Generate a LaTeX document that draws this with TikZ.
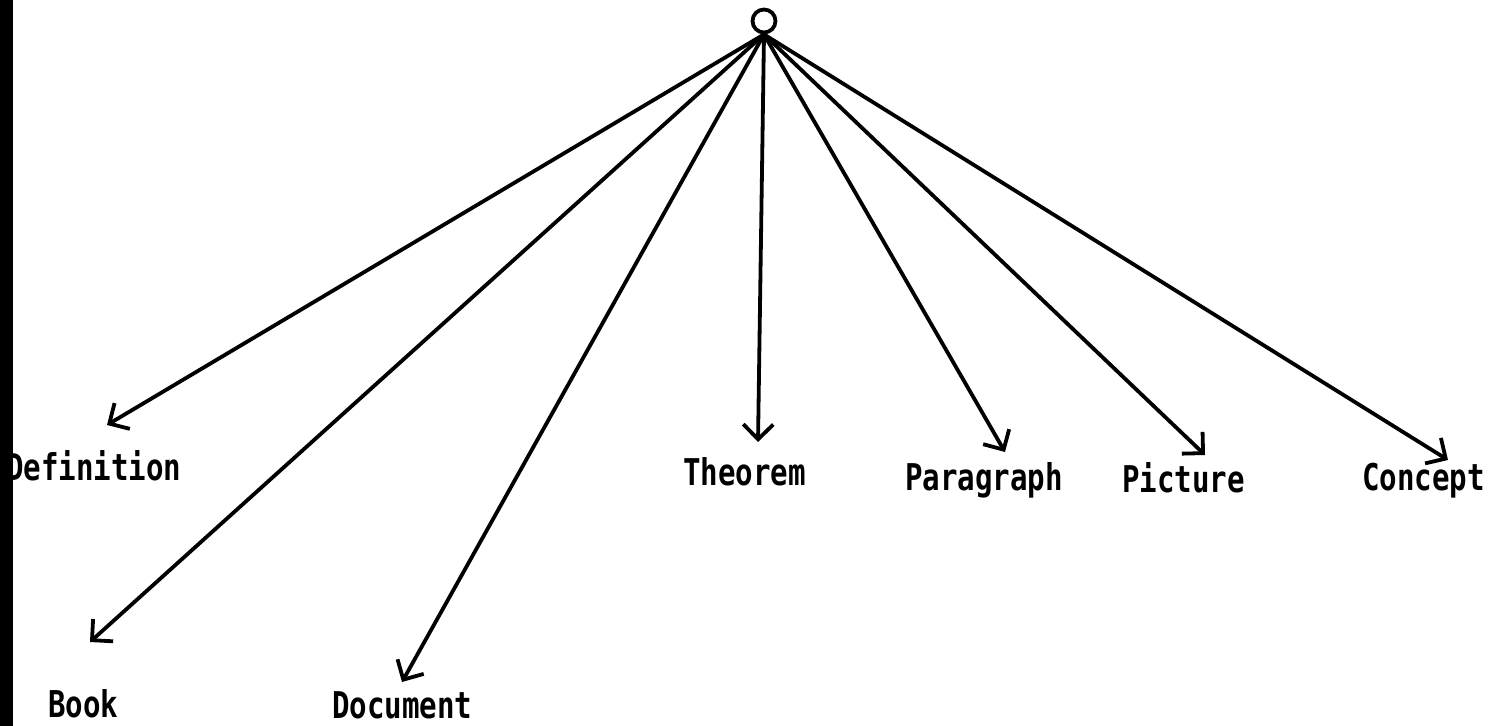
\documentclass[tikz,border=0pt]{standalone}
\usepackage{fontspec}
\newfontfamily\labelmono{DejaVu Sans Mono}
\usetikzlibrary{arrows.meta}
\begin{document}
\begin{tikzpicture}[x=1bp,y=-1bp,
  link/.style={line width=3.8bp, line cap=round,
    -{Straight Barb[length=15bp,width=30bp]}},
  lbl/.style={font=\labelmono\bfseries\fontsize{37}{37}\selectfont,
    xscale=0.79, inner sep=0pt, anchor=base west},
  hubring/.style={circle, draw, line width=3.8bp, minimum size=23bp, inner sep=0pt}]
\useasboundingbox (0,0) rectangle (1503,726);
\fill[white] (0,0) rectangle (1503,726);

% root of the tree
\node[hubring] (root) at (764,21) {};

% arrow ends
\coordinate (tDef) at (107,425);
\coordinate (tBook) at (90,642);
\coordinate (tDoc) at (402,682);
\coordinate (tThm) at (758,442);
\coordinate (tPar) at (1005,452);
\coordinate (tPic) at (1205,455);
\coordinate (tCon) at (1448,460);

% labels
\node[lbl] (def)  at (6,480)    {Definition};
\node[lbl] (book) at (48,717)   {Book};
\node[lbl] (doc)  at (332,718)  {Document};
\node[lbl] (thm)  at (683,485)  {Theorem};
\node[lbl] (par)  at (905,490)  {Paragraph};
\node[lbl] (pic)  at (1122,492) {Picture};
\node[lbl] (con)  at (1362,490) {Concept};

% connectors
\foreach \t in {tDef,tBook,tDoc,tThm,tPar,tPic,tCon}
  \draw[link] (root.south) -- (\t);

% dark strip along the left edge
\fill[black] (0,0) rectangle (13,726);
\end{tikzpicture}
\end{document}
